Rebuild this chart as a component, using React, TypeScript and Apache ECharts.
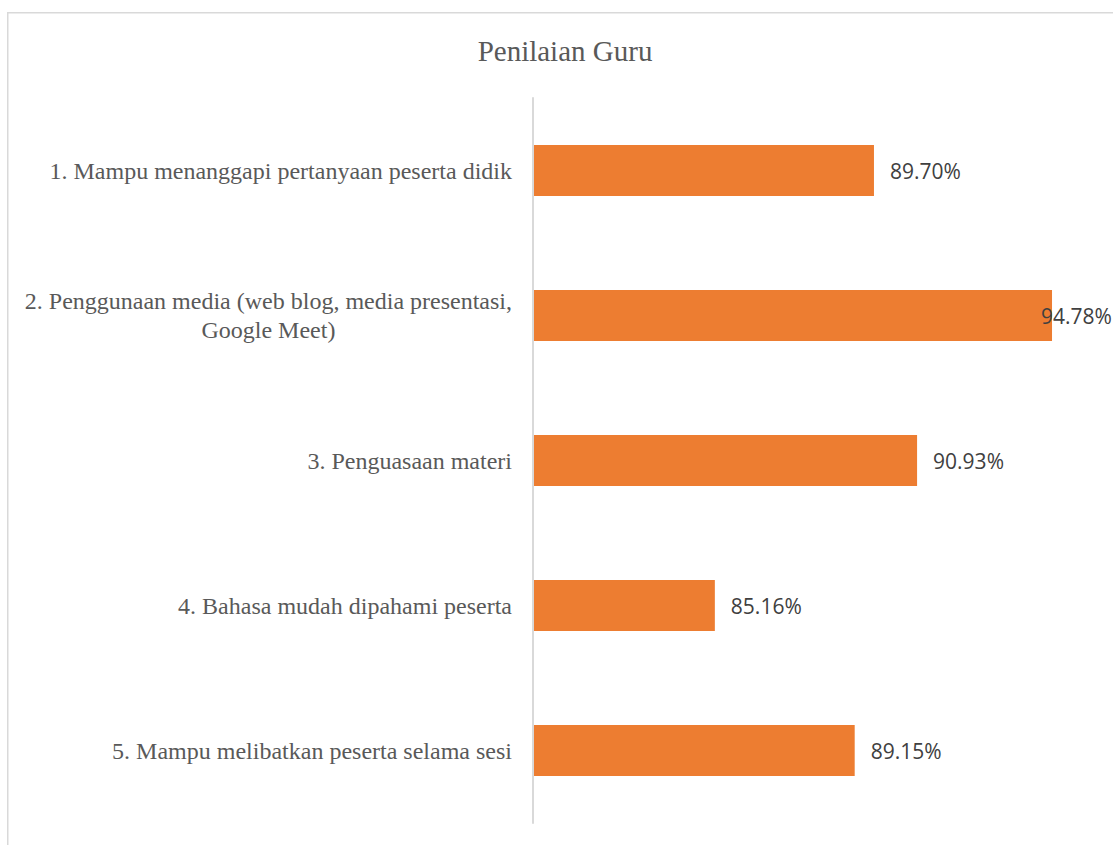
import React, { useEffect, useRef } from "react";
import * as echarts from "echarts";

const titleText = "Penilaian Guru";
const categories = [
  "1. Mampu menanggapi pertanyaan peserta didik",
  "2. Penggunaan media (web blog, media presentasi,\nGoogle Meet)",
  "3. Penguasaan materi",
  "4. Bahasa mudah dipahami peserta",
  "5. Mampu melibatkan peserta selama sesi",
];
const values = [89.7, 94.78, 90.93, 85.16, 89.15];
const axisMin = 80;
const axisMax = 96.52;

const SERIF = '"Liberation Serif", "Times New Roman", serif';
const SANS = '"Open Sans", "Noto Sans", sans-serif';

export default function App() {
  const ref = useRef<HTMLDivElement>(null);
  useEffect(() => {
    if (!ref.current) return;
    const chart = echarts.init(ref.current, undefined, { renderer: "svg" });

    const canvas = document.createElement("canvas");
    const ctx = canvas.getContext("2d")!;
    ctx.font = `24px ${SERIF}`;
    let lineW = 0;
    categories.forEach((c) => {
      const parts = c.split("\n");
      if (parts.length > 1) parts.forEach((p) => (lineW = Math.max(lineW, ctx.measureText(p).width)));
    });

    chart.setOption({
      animation: false,
      backgroundColor: "#ffffff",
      title: {
        text: titleText,
        left: 560,
        textAlign: "center",
        top: 31,
        textStyle: { fontFamily: SERIF, fontSize: 29, fontWeight: "normal", color: "#595959" },
      },
      graphic: [
        {
          type: "rect",
          shape: { x: 7.75, y: 12.75, width: 3000, height: 3000 },
          style: { fill: "none", stroke: "#d9d9d9", lineWidth: 1.5 },
          silent: true,
        },
      ],
      grid: { left: 534, top: 98, right: 0, height: 725, containLabel: false },
      xAxis: {
        type: "value",
        min: axisMin,
        max: axisMax,
        show: false,
        splitLine: { show: false },
      },
      yAxis: {
        type: "category",
        data: categories,
        inverse: true,
        offset: 1,
        axisLine: { show: true, lineStyle: { color: "#d9d9d9", width: 2 } },
        axisTick: { show: false },
        axisLabel: {
          margin: 21,
          fontFamily: SERIF,
          fontSize: 24,
          color: "#595959",
          lineHeight: 29,
          formatter: (v: string) => {
            const parts = v.split("\n");
            if (parts.length === 1) return v;
            return parts.map((p) => `{c|${p}}`).join("\n");
          },
          rich: {
            c: {
              width: lineW,
              align: "center",
              fontFamily: SERIF,
              fontSize: 24,
              color: "#595959",
              lineHeight: 29,
            },
          },
        },
      },
      series: [
        {
          type: "bar",
          barWidth: 51,
          itemStyle: { color: "#ED7D31" },
          label: {
            show: true,
            position: "right",
            distance: 16,
            fontFamily: SANS,
            fontSize: 21,
            color: "#404040",
            formatter: (p: any) => p.value.toFixed(2) + "%",
          },
          data: values.map((v, i) =>
            i === 1 ? { value: v, label: { distance: -11 } } : v
          ),
        },
      ],
    });
    return () => chart.dispose();
  }, []);
  return (
    <div
      ref={ref}
      style={{ position: "fixed", left: 0, top: 0, width: 1113, height: 845, background: "#fff" }}
    />
  );
}
